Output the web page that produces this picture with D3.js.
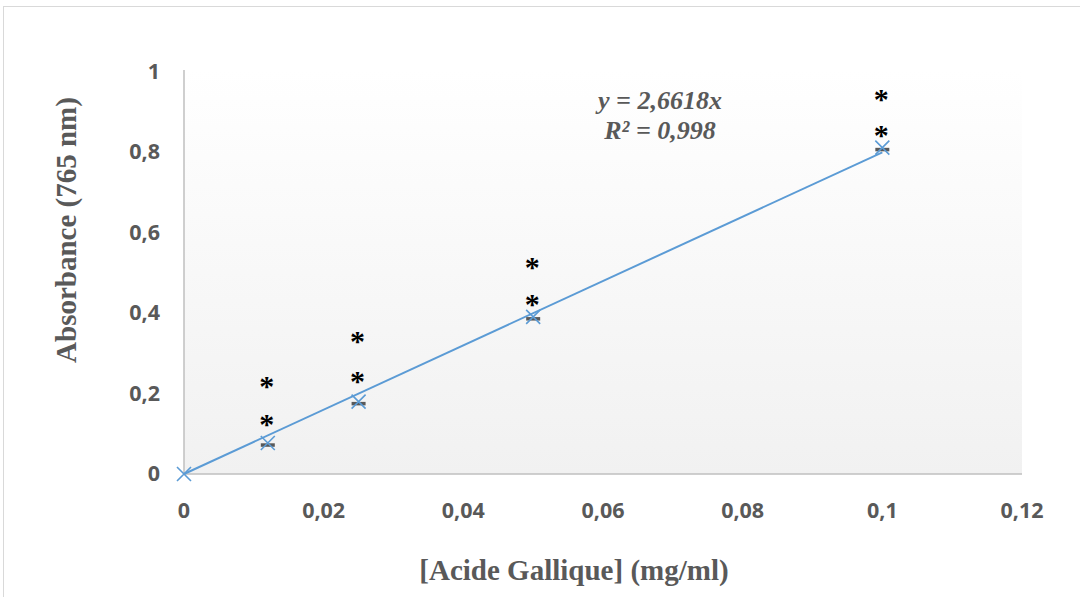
<!DOCTYPE html>
<html>
<head>
    <script type="text/javascript" src="https://d3js.org/d3.v7.min.js"></script>
    <style>
        body { margin: 0; background: #ffffff; }
        svg { display: block; }
    </style>
</head>
<body>
    <svg></svg>
    <script>
        // Gallic acid calibration data
        const concentrations = [0, 0.012, 0.025, 0.05, 0.1];
        const absorbances = [0, 0.077, 0.18, 0.391, 0.812];
        // asterisk annotations above each standard (two per point)
        const starX = [0.012, 0.012, 0.025, 0.025, 0.05, 0.05, 0.1, 0.1];
        const starY = [0.230, 0.134, 0.341, 0.242, 0.525, 0.433, 0.943, 0.853];
        const xTicks = [0, 0.02, 0.04, 0.06, 0.08, 0.1, 0.12];
        const yTicks = [0, 0.2, 0.4, 0.6, 0.8, 1];
        const equationLines = ["y = 2,6618x", "R² = 0,998"];

        const W = 1080, H = 597;
        const svg = d3.select("svg").attr("width", W).attr("height", H);

        const x = d3.scaleLinear().domain([0, 0.12]).range([184, 1022]);
        const y = d3.scaleLinear().domain([0, 1]).range([474, 72]);
        const fmt = d => String(+d.toFixed(2)).replace(".", ",");

        // chart border
        svg.append("rect")
            .attr("x", 3.5).attr("y", 6.5)
            .attr("width", W).attr("height", H)
            .attr("fill", "none").attr("stroke", "#d9d9d9");

        // plot area gradient
        const grad = svg.append("defs").append("linearGradient")
            .attr("id", "bg").attr("x1", 0).attr("y1", 0).attr("x2", 0).attr("y2", 1);
        grad.append("stop").attr("offset", "0%").attr("stop-color", "#ffffff");
        grad.append("stop").attr("offset", "100%").attr("stop-color", "#f1f1f1");
        svg.append("rect")
            .attr("x", x(0)).attr("y", y(1) - 2)
            .attr("width", x(0.12) - x(0)).attr("height", y(0) - y(1) + 2)
            .attr("fill", "url(#bg)");

        // axis lines
        svg.append("line")
            .attr("x1", x(0)).attr("x2", x(0))
            .attr("y1", y(1) - 2).attr("y2", y(0))
            .attr("stroke", "#bfbfbf").attr("stroke-width", 1.5);
        svg.append("line")
            .attr("x1", x(0)).attr("x2", x(0.12))
            .attr("y1", y(0)).attr("y2", y(0))
            .attr("stroke", "#bfbfbf").attr("stroke-width", 1.5);

        const tickFont = "'Open Sans', sans-serif";
        svg.append("g").selectAll("text")
            .data(xTicks).enter().append("text")
            .attr("x", d => x(d)).attr("y", 518)
            .attr("text-anchor", "middle")
            .attr("font-family", tickFont).attr("font-weight", "bold")
            .attr("font-size", 21.5).attr("fill", "#595959")
            .text(fmt);
        svg.append("g").selectAll("text")
            .data(yTicks).enter().append("text")
            .attr("x", 160).attr("y", d => y(d) + 7)
            .attr("text-anchor", "end")
            .attr("font-family", tickFont).attr("font-weight", "bold")
            .attr("font-size", 21.5).attr("fill", "#595959")
            .text(fmt);

        // axis titles
        const titleFont = "'Liberation Serif', 'Times New Roman', serif";
        svg.append("text")
            .attr("x", 574).attr("y", 580)
            .attr("text-anchor", "middle")
            .attr("font-family", titleFont).attr("font-weight", "bold")
            .attr("font-size", 29).attr("fill", "#595959")
            .text("[Acide Gallique] (mg/ml)");
        svg.append("text")
            .attr("transform", "translate(76,230) rotate(-90)")
            .attr("text-anchor", "middle")
            .attr("font-family", titleFont).attr("font-weight", "bold")
            .attr("font-size", 29).attr("fill", "#595959")
            .text("Absorbance (765 nm)");

        // linear trendline through origin (least squares)
        const slope = d3.sum(concentrations, (c, i) => c * absorbances[i]) /
                      d3.sum(concentrations, c => c * c);
        const xMax = d3.max(concentrations);
        svg.append("line")
            .attr("x1", x(0)).attr("y1", y(0))
            .attr("x2", x(xMax)).attr("y2", y(slope * xMax))
            .attr("stroke", "#5b9bd5").attr("stroke-width", 2);

        // small error bars
        svg.append("g").selectAll("line")
            .data(concentrations.slice(1)).enter().append("line")
            .attr("x1", d => x(d) - 7).attr("x2", d => x(d) + 7)
            .attr("y1", (d, i) => y(absorbances[i + 1]) + 2)
            .attr("y2", (d, i) => y(absorbances[i + 1]) + 2)
            .attr("stroke", "#595959").attr("stroke-width", 3.5);

        // x markers
        const s = 7;
        svg.append("g").selectAll("path")
            .data(concentrations).enter().append("path")
            .attr("d", (d, i) => {
                const cx = x(d), cy = y(absorbances[i]);
                return `M${cx - s},${cy - s}L${cx + s},${cy + s}M${cx - s},${cy + s}L${cx + s},${cy - s}`;
            })
            .attr("stroke", "#5b9bd5").attr("stroke-width", 1.6).attr("fill", "none");

        // asterisks
        svg.append("g").selectAll("text")
            .data(starX).enter().append("text")
            .attr("x", d => x(d) - 1)
            .attr("y", (d, i) => y(starY[i]) + 14)
            .attr("text-anchor", "middle")
            .attr("font-family", titleFont).attr("font-weight", "bold")
            .attr("font-size", 30).attr("fill", "#000000")
            .text("*");

        // equation label
        svg.append("g").selectAll("text")
            .data(equationLines).enter().append("text")
            .attr("x", 660).attr("y", (d, i) => 109 + i * 30)
            .attr("text-anchor", "middle")
            .attr("font-family", titleFont).attr("font-weight", "bold")
            .attr("font-style", "italic")
            .attr("font-size", 26).attr("fill", "#595959")
            .text(d => d);
    </script>
</body>
</html>
